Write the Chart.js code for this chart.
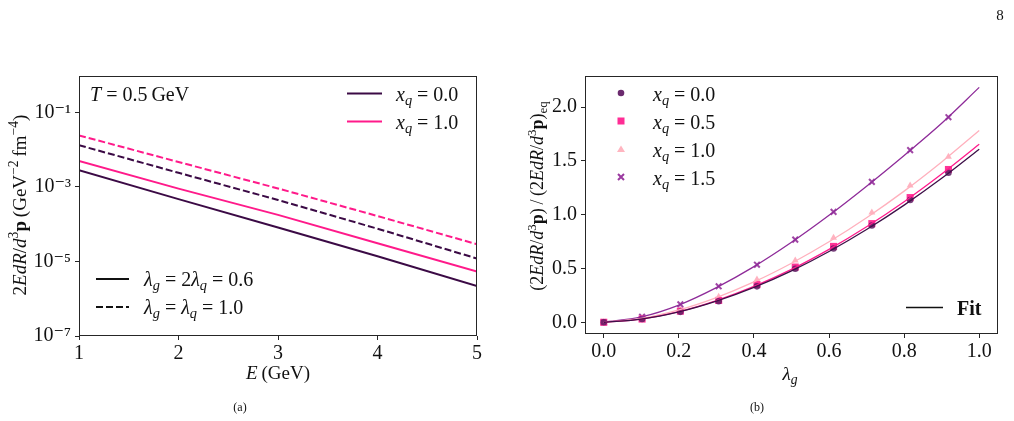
<!DOCTYPE html>
<html><head><meta charset="utf-8">
<script src="https://cdn.jsdelivr.net/npm/chart.js@4.4.1/dist/chart.umd.min.js"></script>
<style>
body{margin:0;background:#fff;width:1014px;height:421px;overflow:hidden;position:relative;font-family:"Liberation Serif","DejaVu Serif",serif;color:#111}
canvas{position:absolute}
.t{position:absolute;white-space:nowrap;font-size:20px;line-height:1}
.a{font-size:19px}
.c{transform:translate(-50%,-50%)}
.l{transform:translateY(-50%)}
.r{transform:translate(-50%,-50%) rotate(-90deg)}
sub{font-size:72%;vertical-align:-0.3em;line-height:0}
sup{font-size:72%;vertical-align:0.55em;line-height:0}
svg{position:absolute;left:0;top:0}
</style></head><body>
<canvas id="ca" width="500" height="330" style="left:0;top:60px"></canvas>
<canvas id="cb" width="514" height="330" style="left:500px;top:60px"></canvas>

<svg width="1014" height="421">
  <line x1="347" y1="93.5" x2="382" y2="93.5" stroke="#3b0a45" stroke-width="2"/>
  <line x1="347" y1="121.5" x2="382" y2="121.5" stroke="#ff1a8a" stroke-width="2"/>
  <line x1="96" y1="279" x2="129" y2="279" stroke="#111" stroke-width="2"/>
  <line x1="96" y1="307" x2="129" y2="307" stroke="#111" stroke-width="2" stroke-dasharray="7,3"/>
  <circle cx="621" cy="93" r="3.3" fill="#6b2a6e"/>
  <rect x="617.5" y="117.5" width="7" height="7" fill="#ff2d95"/>
  <polygon points="621,145.5 625,152 617,152" fill="#ffb5c0"/>
  <path d="M618 174 L624 180 M624 174 L618 180" stroke="#9b3aa0" stroke-width="2"/>
  <line x1="906" y1="307.5" x2="943" y2="307.5" stroke="#111" stroke-width="1.3"/>
</svg>

<div class="t c" style="left:1000px;top:15px;font-size:15px">8</div>
<div class="t c" style="left:240px;top:407px;font-size:12px">(a)</div>
<div class="t c" style="left:757px;top:407px;font-size:12px">(b)</div>

<div class="t c a" style="left:278px;top:372px"><i>E</i>&thinsp;(GeV)</div>
<div class="t r a" style="left:19px;top:205px">2<i>EdR</i>/<i>d</i><sup>3</sup><b>p</b>&thinsp;(GeV<sup>−2</sup>&thinsp;fm<sup>−4</sup>)</div>
<div class="t l" style="left:90px;top:94px"><i>T</i> = 0.5&thinsp;GeV</div>
<div class="t l" style="left:396px;top:94px"><i>x<sub>q</sub></i> = 0.0</div>
<div class="t l" style="left:396px;top:122px"><i>x<sub>q</sub></i> = 1.0</div>
<div class="t l" style="left:144px;top:279px"><i>λ<sub>g</sub></i> = 2<i>λ<sub>q</sub></i> = 0.6</div>
<div class="t l" style="left:144px;top:307px"><i>λ<sub>g</sub></i> = <i>λ<sub>q</sub></i> = 1.0</div>

<div class="t c a" style="left:790px;top:373px"><i>λ<sub>g</sub></i></div>
<div class="t r" style="left:537px;top:196px;font-size:18px">(2<i>EdR</i>/<i>d</i><sup>3</sup><b>p</b>)&thinsp;/&thinsp;(2<i>EdR</i>/<i>d</i><sup>3</sup><b>p</b>)<sub>eq</sub></div>
<div class="t l" style="left:653px;top:94px"><i>x<sub>q</sub></i> = 0.0</div>
<div class="t l" style="left:653px;top:122px"><i>x<sub>q</sub></i> = 0.5</div>
<div class="t l" style="left:653px;top:150px"><i>x<sub>q</sub></i> = 1.0</div>
<div class="t l" style="left:653px;top:178px"><i>x<sub>q</sub></i> = 1.5</div>
<div class="t l" style="left:957px;top:308px;font-weight:bold">Fit</div>

<script>
// ---- Panel (a) data ----
const energies = [1, 2, 3, 4, 5];
const rateSolidX0  = [2.80e-3, 4.72e-4, 8.13e-5, 1.38e-5, 2.19e-6];
const rateSolidX1  = [5.00e-3, 9.00e-4, 1.78e-4, 3.09e-5, 5.37e-6];
const rateDashedX0 = [1.32e-2, 2.40e-3, 4.47e-4, 7.59e-5, 1.20e-5];
const rateDashedX1 = [2.42e-2, 4.68e-3, 9.12e-4, 1.66e-4, 2.90e-5];
const leftXTicks = [1, 2, 3, 4, 5];
const leftYTicks = [1e-7, 1e-5, 1e-3, 1e-1];
const leftYTickLabels = ['10⁻⁷', '10⁻⁵', '10⁻³', '10⁻¹'];

// ---- Panel (b) data ----
const lambdaPts = [0, 0.102, 0.204, 0.306, 0.408, 0.510, 0.612, 0.714, 0.816, 0.918];
const ratioX00 = [0, 0.030, 0.097, 0.195, 0.334, 0.498, 0.686, 0.899, 1.136, 1.390];
const ratioX05 = [0, 0.030, 0.103, 0.203, 0.350, 0.513, 0.705, 0.917, 1.159, 1.420];
const ratioX10 = [0, 0.037, 0.117, 0.237, 0.398, 0.574, 0.786, 1.020, 1.272, 1.539];
const ratioX15 = [0, 0.052, 0.167, 0.334, 0.535, 0.768, 1.026, 1.305, 1.600, 1.906];
const lambdaFit = [0, 0.1, 0.2, 0.3, 0.4, 0.5, 0.6, 0.7, 0.8, 0.9, 1.0];
const fitX00 = [0, 0.029, 0.096, 0.196, 0.324, 0.478, 0.658, 0.862, 1.089, 1.338, 1.609];
const fitX05 = [0, 0.030, 0.099, 0.202, 0.334, 0.492, 0.678, 0.888, 1.121, 1.378, 1.655];
const fitX10 = [0, 0.036, 0.115, 0.230, 0.375, 0.549, 0.748, 0.972, 1.219, 1.490, 1.782];
const fitX15 = [0, 0.050, 0.160, 0.322, 0.517, 0.743, 0.994, 1.265, 1.551, 1.850, 2.183];
const rightXTicks = [0, 0.2, 0.4, 0.6, 0.8, 1.0];
const rightYTicks = [0, 0.5, 1.0, 1.5, 2.0];

const FONT = {family: '"Liberation Serif","DejaVu Serif",serif', size: 20};
const zip = (xs, ys) => xs.map((x, i) => ({x, y: ys[i]}));

const frame = {
  id: 'frame',
  afterDraw(chart) {
    const a = chart.chartArea, ctx = chart.ctx;
    ctx.save();
    ctx.strokeStyle = '#262626';
    ctx.lineWidth = 1;
    ctx.strokeRect(Math.round(a.left) + 0.5, Math.round(a.top) + 0.5,
                   Math.round(a.right - a.left) - 1, Math.round(a.bottom - a.top) - 1);
    ctx.restore();
  }
};
const gridCfg = {display: true, drawOnChartArea: false, drawTicks: true, tickLength: 4, color: '#262626', lineWidth: 1};

// place the plot area at a target rectangle (canvas coordinates)
function placeArea(chart, target, dims) {
  for (let k = 0; k < 3; k++) {
    const a = chart.chartArea;
    const p = chart.options.layout.padding;
    p.top += target.top - a.top;
    p.right += a.right - target.right;
    dims.yw += target.left - a.left;
    dims.xh += a.bottom - target.bottom;
    chart.update('none');
  }
}

function lineDs(xs, ys, color, dash, width) {
  return {data: zip(xs, ys), borderColor: color, backgroundColor: color, borderWidth: width,
          borderDash: dash, pointRadius: 0, fill: false, tension: 0};
}

const dimsA = {yw: 79, xh: 54};
const chartA = new Chart(document.getElementById('ca'), {
  type: 'line',
  data: {datasets: [
    lineDs(energies, rateSolidX0, '#3b0a45', [], 2),
    lineDs(energies, rateSolidX1, '#ff1a8a', [], 2),
    lineDs(energies, rateDashedX0, '#3b0a45', [7, 3], 2),
    lineDs(energies, rateDashedX1, '#ff1a8a', [7, 3], 2)
  ]},
  options: {
    responsive: false, animation: false,
    layout: {padding: {top: 11, right: 23, left: 0, bottom: 0}},
    plugins: {legend: {display: false}, tooltip: {enabled: false}},
    scales: {
      x: {type: 'linear', min: 1, max: 5, grid: gridCfg, border: {display: false},
          afterBuildTicks: s => { s.ticks = leftXTicks.map(v => ({value: v})); },
          afterFit: s => { s.height = dimsA.xh; },
          ticks: {font: FONT, color: '#111', padding: 2, maxRotation: 0, callback: v => String(v)}},
      y: {type: 'logarithmic', min: 1e-7, max: 0.95, grid: gridCfg, border: {display: false},
          afterBuildTicks: s => { s.ticks = leftYTicks.map(v => ({value: v})); },
          afterFit: s => { s.width = dimsA.yw; },
          ticks: {font: FONT, color: '#111', padding: 4,
                  callback: (v, i) => leftYTickLabels[i]}}
    }
  },
  plugins: [frame]
});
placeArea(chartA, {left: 79, top: 11, right: 477, bottom: 276}, dimsA);

function markerDs(ys, color, style, r, bw) {
  return {type: 'line', data: zip(lambdaPts, ys), showLine: false, pointStyle: style,
          pointRadius: r, pointBorderWidth: bw, pointBackgroundColor: color, pointBorderColor: color,
          borderColor: color, backgroundColor: color, order: 2};
}
function fitDs(ys, color) {
  return {type: 'line', data: zip(lambdaFit, ys), borderColor: color, borderWidth: 1.3,
          pointRadius: 0, cubicInterpolationMode: 'monotone', fill: false, order: 1};
}

const dimsB = {yw: 85, xh: 56};
const chartB = new Chart(document.getElementById('cb'), {
  type: 'line',
  data: {datasets: [
    markerDs(ratioX00, 'rgba(95,30,100,0.85)', 'circle', 3.3, 0),
    markerDs(ratioX05, 'rgba(255,30,140,0.9)', 'rect', 5, 0),
    markerDs(ratioX10, 'rgba(255,170,185,0.9)', 'triangle', 4, 0),
    markerDs(ratioX15, 'rgba(150,50,155,0.9)', 'crossRot', 4, 2),
    fitDs(fitX00, '#3d1048'),
    fitDs(fitX05, '#ff1a8c'),
    fitDs(fitX10, '#ffb0bd'),
    fitDs(fitX15, '#8e2b99')
  ]},
  options: {
    responsive: false, animation: false,
    layout: {padding: {top: 11, right: 16, left: 0, bottom: 0}},
    plugins: {legend: {display: false}, tooltip: {enabled: false}},
    scales: {
      x: {type: 'linear', min: -0.05, max: 1.05, grid: gridCfg, border: {display: false},
          afterBuildTicks: s => { s.ticks = rightXTicks.map(v => ({value: v})); },
          afterFit: s => { s.height = dimsB.xh; },
          ticks: {font: FONT, color: '#111', padding: 2, maxRotation: 0, callback: v => v.toFixed(1)}},
      y: {type: 'linear', min: -0.109, max: 2.289, grid: gridCfg, border: {display: false},
          afterBuildTicks: s => { s.ticks = rightYTicks.map(v => ({value: v})); },
          afterFit: s => { s.width = dimsB.yw; },
          ticks: {font: FONT, color: '#111', padding: 4, callback: v => v.toFixed(1)}}
    }
  },
  plugins: [frame]
});
placeArea(chartB, {left: 85, top: 11, right: 498, bottom: 274}, dimsB);
</script>
</body></html>
